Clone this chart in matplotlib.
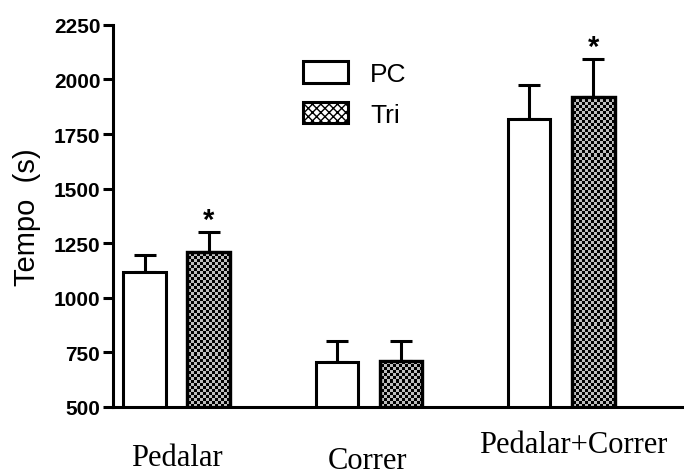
import matplotlib.pyplot as plt
import numpy as np

categories = ['Pedalar', 'Correr', 'Pedalar+Correr']
pc_mean = [1118, 708, 1819]
pc_err = [80, 92, 157]
tri_mean = [1210, 712, 1920]
tri_err = [92, 88, 172]
significant = [True, False, True]
yticks = [500, 750, 1000, 1250, 1500, 1750, 2000, 2250]

plt.rcParams['font.family'] = ['Liberation Sans', 'DejaVu Sans']

fig = plt.figure(figsize=(6.84, 4.77), dpi=100)
ax = fig.add_axes([0.165, 0.1447, 0.835, 0.801])

x = np.arange(len(categories)) * 3
w = 0.67

ax.set_xlim(-0.5, 8.42)
ax.set_ylim(500, 2250)

ax.bar(x, pc_mean, w, color='white', edgecolor='black',
       linewidth=2.2, label='PC', zorder=2)
tri = ax.bar(x + 1, tri_mean, w, color='white', edgecolor='black',
             linewidth=2.2, label='Tri', zorder=2)

# checkerboard texture inside the Tri bars (about 3 px cells)
ny, nx = 127, 190
checker = (np.add.outer(np.arange(ny), np.arange(nx)) % 2).astype(float)
for p in tri:
    im = ax.imshow(checker, cmap='gray', vmin=0, vmax=1.35, aspect='auto',
                   extent=[*ax.get_xlim(), *ax.get_ylim()],
                   interpolation='nearest', zorder=2.5)
    im.set_clip_path(p)
for p in tri:
    ax.add_patch(plt.Rectangle(p.get_xy(), p.get_width(), p.get_height(),
                               fill=False, edgecolor='black', linewidth=2.4,
                               zorder=3))

ax.errorbar(x, pc_mean, yerr=[np.zeros(3), pc_err], fmt='none',
            ecolor='black', elinewidth=2.2, capsize=8, capthick=2.2, zorder=1)
ax.errorbar(x + 1, tri_mean, yerr=[np.zeros(3), tri_err], fmt='none',
            ecolor='black', elinewidth=2.2, capsize=8, capthick=2.2, zorder=1)

# asterisks over the significant Tri bars
for xi, m, e, s in zip(x + 1, tri_mean, tri_err, significant):
    if s:
        ax.text(xi, m + e - 8, '*', ha='center', va='bottom',
                fontsize=21, fontweight='bold')

ax.set_xlim(-0.5, 8.42)
ax.set_ylim(500, 2250)
ax.set_yticks(yticks)
ax.set_yticklabels([str(t) for t in yticks], fontsize=15, fontweight='bold')
ax.set_xticks([])
ax.tick_params(axis='y', length=7, width=2.2, pad=2)
for side in ['top', 'right']:
    ax.spines[side].set_visible(False)
for side in ['left', 'bottom']:
    ax.spines[side].set_linewidth(2.2)
ax.set_ylabel('Tempo  (s)', fontsize=21, labelpad=9)

# category labels sit at staggered heights in the original
label_x = [0.5, 3.47, 6.69]
label_y = [-0.152, -0.159, -0.118]
for xi, lab, ly in zip(label_x, categories, label_y):
    ax.text(xi, ly, lab, transform=ax.get_xaxis_transform(), ha='center',
            va='baseline', fontsize=22, family='Liberation Serif')

leg = ax.legend(loc='upper left', bbox_to_anchor=(0.333, 0.905), frameon=False,
                fontsize=19, handlelength=1.7, handleheight=0.87, borderpad=0,
                borderaxespad=0, handletextpad=0.85, labelspacing=0.6)
leg.legend_handles[1].set_hatch('xxxx')

plt.savefig('out.png', dpi=100)
